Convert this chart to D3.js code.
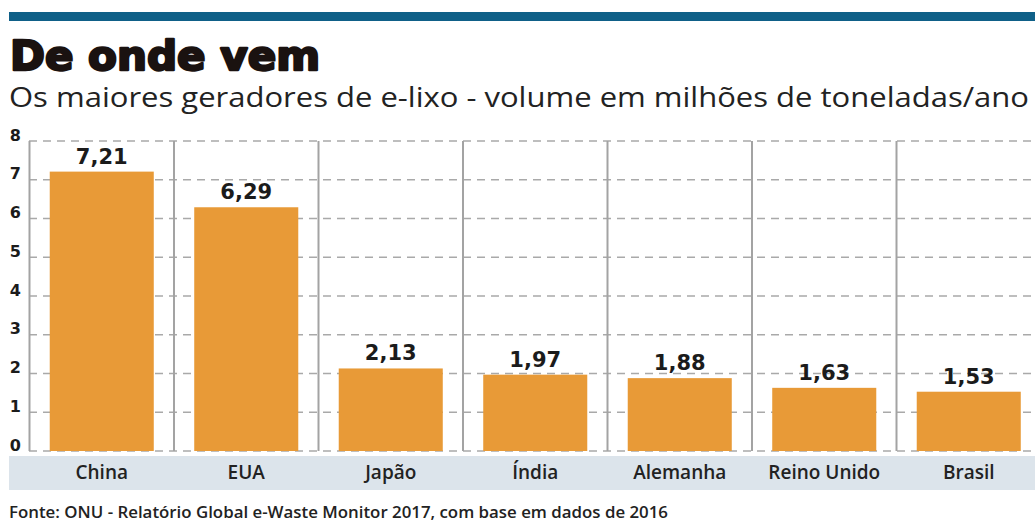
<!DOCTYPE html>
<html>
<head>
<meta charset="utf-8">
<script src="https://cdn.jsdelivr.net/npm/d3@7"></script>
<style>
  body { margin: 0; background: #fff; }
  svg { display: block; }
</style>
</head>
<body>
<div id="container"></div>
<script>
// data
var countries = ['China', 'EUA', 'Japão', 'Índia', 'Alemanha', 'Reino Unido', 'Brasil'];
var volumes = [7.21, 6.29, 2.13, 1.97, 1.88, 1.63, 1.53];
var yTicks = [0, 1, 2, 3, 4, 5, 6, 7, 8];

var w = 1035;
var h = 522;

var svg = d3.select('#container')
    .append('svg')
    .attr('width', w)
    .attr('height', h);

// top blue stripe
svg.append('rect')
    .attr('x', 9).attr('y', 12)
    .attr('width', w - 9).attr('height', 9)
    .attr('fill', '#0f6088');

// title + subtitle
svg.append('text')
    .attr('x', 10).attr('y', 70)
    .style('font-family', 'DejaVu Sans')
    .style('font-weight', 700)
    .style('font-size', '40px')
    .attr('fill', '#1a1210')
    .attr('stroke', '#1a1210')
    .attr('stroke-width', 2.4)
    .attr('stroke-linejoin', 'round')
    .attr('textLength', 310)
    .attr('lengthAdjust', 'spacingAndGlyphs')
    .text('De onde vem');

svg.append('text')
    .attr('x', 9).attr('y', 107)
    .style('font-family', 'Open Sans')
    .style('font-size', '27px')
    .attr('fill', '#222')
    .attr('textLength', 1020)
    .attr('lengthAdjust', 'spacingAndGlyphs')
    .text('Os maiores geradores de e-lixo - volume em milhões de toneladas/ano');

// scales
var x = d3.scaleBand()
    .domain(countries)
    .range([29.5, 29.5 + 144.5 * countries.length])
    .paddingInner(0.28)
    .paddingOuter(0.14);

var y = d3.scaleLinear()
    .domain([0, 8])
    .range([451, 141]);

// category strip
svg.append('rect')
    .attr('x', 9).attr('y', 456)
    .attr('width', w - 9).attr('height', 34)
    .attr('fill', '#dce4eb');

// dashed gridlines
svg.append('g')
    .selectAll('line')
    .data(yTicks)
    .enter()
    .append('line')
    .attr('x1', 29)
    .attr('x2', w)
    .attr('y1', function(d) { return y(d); })
    .attr('y2', function(d) { return y(d); })
    .attr('stroke', '#a9a9a9')
    .attr('stroke-width', 1.6)
    .attr('stroke-dasharray', '8,6');

// vertical separators (axis + between bands)
svg.append('g')
    .selectAll('line')
    .data(countries)
    .enter()
    .append('line')
    .attr('x1', function(d) { return x(d) - x.step() * x.paddingOuter(); })
    .attr('x2', function(d) { return x(d) - x.step() * x.paddingOuter(); })
    .attr('y1', y(8))
    .attr('y2', y(0))
    .attr('stroke', '#a3a3a3')
    .attr('stroke-width', 2);

// bars
svg.append('g')
    .selectAll('rect')
    .data(volumes)
    .enter()
    .append('rect')
    .attr('x', function(d, i) { return x(countries[i]); })
    .attr('y', function(d) { return y(d); })
    .attr('width', x.bandwidth())
    .attr('height', function(d) { return y(0) - y(d); })
    .attr('fill', '#e89a37');

// value labels
svg.append('g')
    .selectAll('text')
    .data(volumes)
    .enter()
    .append('text')
    .attr('x', function(d, i) { return x(countries[i]) + x.bandwidth() / 2; })
    .attr('y', function(d) { return y(d) - 8; })
    .attr('text-anchor', 'middle')
    .style('font-family', 'DejaVu Sans')
    .style('font-weight', 700)
    .style('font-size', '21px')
    .attr('fill', '#1b1b1b')
    .text(function(d) { return d.toFixed(2).replace('.', ','); });

// y tick labels
var yAxis = d3.axisLeft(y)
    .tickValues(yTicks)
    .tickSize(0)
    .tickPadding(0);

var ya = svg.append('g')
    .attr('transform', 'translate(21,0)')
    .call(yAxis);
ya.select('.domain').remove();
ya.selectAll('text')
    .attr('dy', '-0.05em')
    .style('font-family', 'DejaVu Sans')
    .style('font-weight', 700)
    .style('font-size', '16px')
    .attr('fill', '#1b1b1b');

// category labels
var xAxis = d3.axisBottom(x).tickSize(0).tickPadding(0);
var xa = svg.append('g')
    .attr('transform', 'translate(0,465)')
    .call(xAxis);
xa.select('.domain').remove();
xa.selectAll('text')
    .style('font-family', 'Open Sans')
    .style('font-weight', 600)
    .style('font-size', '19px')
    .attr('fill', '#222');

// source
svg.append('text')
    .attr('x', 9).attr('y', 518)
    .style('font-family', 'Open Sans')
    .style('font-weight', 600)
    .style('font-size', '16.5px')
    .attr('fill', '#222')
    .attr('textLength', 659)
    .attr('lengthAdjust', 'spacingAndGlyphs')
    .text('Fonte: ONU - Relatório Global e-Waste Monitor 2017, com base em dados de 2016');
</script>
</body>
</html>
